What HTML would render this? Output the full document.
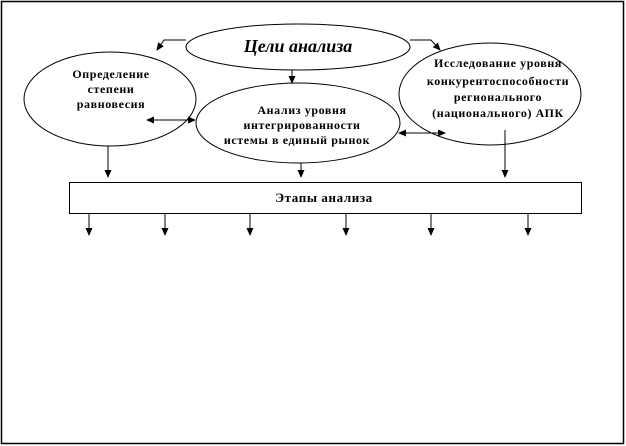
<!DOCTYPE html>
<html><head><meta charset="utf-8"><style>
body{margin:0;background:#fff}
svg{display:block}
text{font-family:"Liberation Serif",serif;font-weight:bold;font-size:12px;letter-spacing:0.6px;fill:#000}
</style></head><body>
<svg width="626" height="446" viewBox="0 0 626 446">
<defs><marker id="a" markerWidth="8" markerHeight="8" refX="7" refY="4" orient="auto" markerUnits="userSpaceOnUse"><path d="M0,0.5 L8,4 L0,7.5z" fill="#000"/></marker>
<marker id="b" markerWidth="8" markerHeight="8" refX="1" refY="4" orient="auto" markerUnits="userSpaceOnUse"><path d="M8,0.5 L0,4 L8,7.5z" fill="#000"/></marker></defs>
<rect x="1.5" y="1.5" width="622" height="442" fill="none" stroke="#000" stroke-width="1.5"/>
<g fill="#fff" stroke="#000" stroke-width="1">
<ellipse cx="110" cy="99" rx="86" ry="47"/>
<ellipse cx="490" cy="94" rx="91" ry="51"/>
<ellipse cx="298" cy="123" rx="102" ry="40"/>
<ellipse cx="298" cy="47" rx="112" ry="23"/>
<rect x="69.5" y="182.5" width="512" height="31"/>
</g>
<g stroke="#000" fill="none" stroke-width="1">
<path d="M186,40 H164 L157,50" marker-end="url(#a)"/>
<path d="M410,40 H431 L440,50" marker-end="url(#a)"/>
<path d="M292,70 V83" marker-end="url(#a)"/>
<path d="M108,146 V177" marker-end="url(#a)"/>
<path d="M301,163 V177" marker-end="url(#a)"/>
<path d="M505,130 V177" marker-end="url(#a)"/>
<path d="M147,120 H195" marker-start="url(#b)" marker-end="url(#a)"/>
<path d="M399,133 H445" marker-start="url(#b)" marker-end="url(#a)"/>
<path d="M89,213 V235" marker-end="url(#a)"/>
<path d="M165,213 V235" marker-end="url(#a)"/>
<path d="M250,213 V235" marker-end="url(#a)"/>
<path d="M346,213 V235" marker-end="url(#a)"/>
<path d="M431,213 V235" marker-end="url(#a)"/>
<path d="M528,213 V235" marker-end="url(#a)"/>
</g>
<text x="298" y="52" text-anchor="middle" style="font-size:18px;font-style:italic;letter-spacing:0">Цели анализа</text>
<g text-anchor="middle">
<text x="111" y="78">Определение</text>
<text x="111" y="93">степени</text>
<text x="111" y="108">равновесия</text>
<text x="302" y="114">Анализ уровня</text>
<text x="302" y="129">интегрированности</text>
<text x="297" y="144">истемы в единый рынок</text>
<text x="498" y="67">Исследование уровня</text>
<text x="498" y="85">конкурентоспособности</text>
<text x="498" y="101">регионального</text>
<text x="498" y="117">(национального) АПК</text>
<text x="324" y="202" style="font-size:13px">Этапы анализа</text>
</g>
</svg>
</body></html>
